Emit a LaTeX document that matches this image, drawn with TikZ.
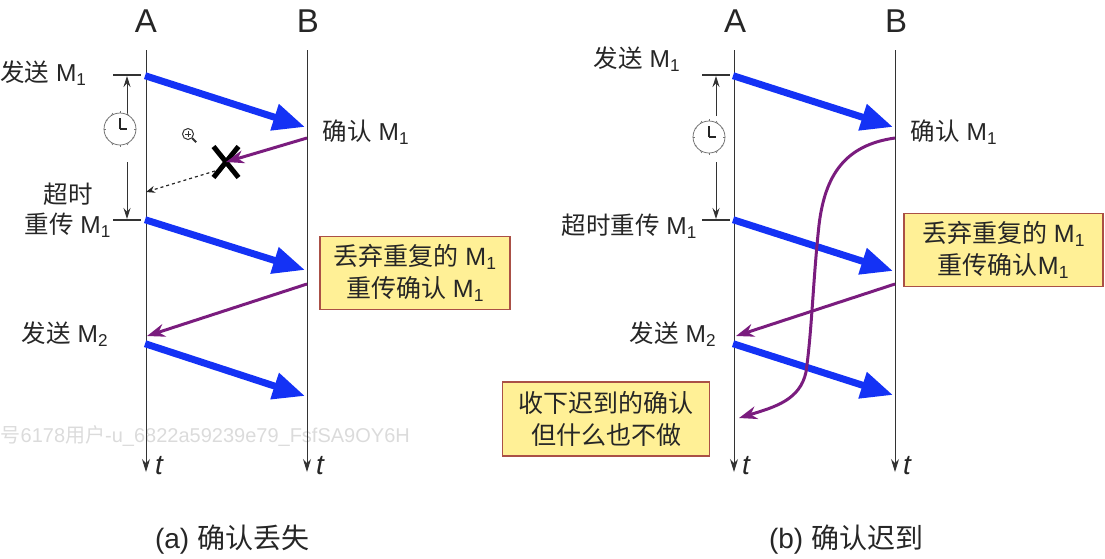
\documentclass[tikz,border=0pt]{standalone}
\usepackage{fontspec}
\usepackage{tikz}
\usetikzlibrary{arrows.meta,shapes.misc}
\setmainfont{Liberation Sans}
\newfontfamily\cjk{Noto Sans CJK SC}
\newcommand{\cn}[1]{{\cjk #1}}
\newcommand{\MM}[1]{M\textsubscript{#1}}
\definecolor{msgblue}{RGB}{20,50,245}
\definecolor{ackpurple}{RGB}{122,28,126}
\definecolor{notefill}{RGB}{255,240,150}
\definecolor{noteedge}{RGB}{170,80,70}

\begin{document}
\begin{tikzpicture}[x=1pt, y=-1pt, >=stealth,
  label/.style={inner sep=0pt, font=\fontsize{24.5}{30}\selectfont, text=black!85, align=center},
  station/.style={inner sep=0pt, font=\fontsize{33}{33}\selectfont, text=black!85},
  timeend/.style={inner sep=0pt, font=\fontsize{28}{28}\selectfont\itshape, text=black!85},
  caption/.style={inner sep=0pt, font=\fontsize{28}{32}\selectfont, text=black!85},
  notebox/.style={draw=noteedge, fill=notefill, line width=1.2pt, inner sep=0pt,
    align=center, font=\fontsize{25}{32}\selectfont, text=black!85},
  timeline/.style={-{Stealth[length=13pt,width=8pt]}, line width=1pt, black!80},
  tick/.style={line width=1.2pt, black!80},
  span/.style={-{Stealth[length=11pt,width=7pt]}, line width=1pt, black!80},
  datamsg/.style={-{Triangle[length=32pt,width=26pt]}, line width=7pt, msgblue, shorten <=-1pt},
  ackmsg/.style={-{Stealth[length=18pt,width=13pt]}, line width=3pt, ackpurple}]

  \useasboundingbox (0,0) rectangle (1105,558);

  % watermark
  \node[inner sep=0pt, anchor=west, font=\fontsize{20}{20}\selectfont, text=black!14] (mark) at (0.5,436)
    {\cn{号}6178\cn{用户}-u\_6822a59239e79\_FsfSA9OY6H};

  % stations (a)
  \node[station] (A1) at (146,21) {A};
  \node[station] (B1) at (308,21) {B};
  \coordinate (A1top) at (146,50);
  \coordinate (B1top) at (307,50);
  \coordinate (A1end) at (146,472);
  \coordinate (B1end) at (307,472);
  \node[timeend] (tA1) at (159,466) {t};
  \node[timeend] (tB1) at (320,466) {t};
  \draw[timeline] (A1top) -- (A1end);
  \draw[timeline] (B1top) -- (B1end);

  % stations (b)
  \node[station] (A2) at (735,21) {A};
  \node[station] (B2) at (896,21) {B};
  \coordinate (A2top) at (734,50);
  \coordinate (B2top) at (895,50);
  \coordinate (A2end) at (734,472);
  \coordinate (B2end) at (895,472);
  \node[timeend] (tA2) at (746,466) {t};
  \node[timeend] (tB2) at (907,466) {t};
  \draw[timeline] (A2top) -- (A2end);
  \draw[timeline] (B2top) -- (B2end);

  % labels (a)
  \node[label, anchor=west] (send1) at (0,73) {\cn{发送} \MM{1}};
  \node[label] (late1) at (68,194) {\cn{超时}};
  \node[label, anchor=east] (resend1) at (111,225) {\cn{重传} \MM{1}};
  \node[label] (ack1) at (366,132) {\cn{确认} \MM{1}};
  \node[label] (send2) at (65,334) {\cn{发送} \MM{2}};

  % labels (b)
  \node[label] (send3) at (637,59) {\cn{发送} \MM{1}};
  \node[label, anchor=east] (resend3) at (697,226) {\cn{超时重传} \MM{1}};
  \node[label] (ack3) at (954,132) {\cn{确认} \MM{1}};
  \node[label] (send4) at (673,334) {\cn{发送} \MM{2}};

  % notes
  \node[notebox, minimum width=190pt, minimum height=73pt] (dup1) at (415,273)
    {\cn{丢弃重复的} \MM{1}\\\cn{重传确认} \MM{1}};
  \node[notebox, minimum width=199pt, minimum height=73pt] (dup2) at (1003.5,250)
    {\cn{丢弃重复的} \MM{1}\\\cn{重传确认}\MM{1}};
  \node[notebox, minimum width=207pt, minimum height=74pt] (keep) at (606,419)
    {\cn{收下迟到的确认}\\\cn{但什么也不做}};

  % timers
  \foreach \n/\tx/\ax/\cx/\cy in {1/113/127/120/129, 2/702/716/709/137} {
    \coordinate (t\n a) at (\tx,75);
    \coordinate (t\n b) at (\tx+28,75);
    \coordinate (t\n c) at (\tx,220);
    \coordinate (t\n d) at (\tx+28,220);
    \coordinate (s\n a) at (\ax,116);
    \coordinate (s\n b) at (\ax,76);
    \coordinate (s\n c) at (\ax,162);
    \coordinate (s\n d) at (\ax,219);
    \draw[tick] (t\n a) -- (t\n b);
    \draw[tick] (t\n c) -- (t\n d);
    \draw[span] (s\n a) -- (s\n b);
    \draw[span] (s\n c) -- (s\n d);
    \node[circle, draw=black!60, fill=white, line width=0.7pt, minimum size=32pt, inner sep=0pt] (clock\n) at (\cx,\cy) {};
    \foreach \ang in {0,30,...,330}
      \draw[black!55, line width=0.8pt] (clock\n.\ang) -- ++(\ang:-2);
    \draw[black!85, line width=1.3pt] (clock\n.center) -- ++(0,-11);
    \draw[black!85, line width=1.3pt] (clock\n.center) -- ++(7,0);
  }

  % messages (a)
  \coordinate (p1) at (146,76);
  \coordinate (q1) at (305,127);
  \coordinate (p2) at (146,220);
  \coordinate (q2) at (305,270);
  \coordinate (p3) at (146,344);
  \coordinate (q3) at (305,396);
  \draw[datamsg] (p1) -- (q1);
  \draw[datamsg] (p2) -- (q2);
  \draw[datamsg] (p3) -- (q3);
  \coordinate (r1) at (307,138);
  \coordinate (r2) at (307,284);
  \coordinate (u1) at (146,192);
  \coordinate (u2) at (147,336);
  \node[cross out, draw=black, line width=5pt, minimum width=20pt, minimum height=26pt, inner sep=0pt] (lost) at (226,162) {};
  \draw[ackmsg] (r1) -- (lost.center);
  \draw[-{Stealth[length=9pt,width=7pt]}, dashed, line width=1.2pt, black!85] (lost.center) ++(-11,9) -- (u1);
  \draw[ackmsg] (r2) -- (u2);

  % messages (b)
  \coordinate (p4) at (734,76);
  \coordinate (q4) at (893,127);
  \coordinate (p5) at (734,220);
  \coordinate (q5) at (893,271);
  \coordinate (p6) at (734,344);
  \coordinate (q6) at (893,395);
  \draw[datamsg] (p4) -- (q4);
  \draw[datamsg] (p5) -- (q5);
  \draw[datamsg] (p6) -- (q6);
  \coordinate (r3) at (895,138);
  \coordinate (r4) at (895,284);
  \coordinate (u3) at (739,418);
  \coordinate (u4) at (736,336);
  \draw[ackmsg] (r4) -- (u4);
  \draw[ackmsg] (r3) .. controls (845,145) and (825,175) .. (819,225)
    .. controls (813,280) and (812,330) .. (806,372)
    .. controls (800,400) and (775,407) .. (u3);

  % magnifier
  \node[circle, draw=black!80, line width=1pt, minimum size=11pt, inner sep=0pt] (lens) at (188,134) {};
  \draw[black!80, line width=1pt] (lens.center) ++(-3,0) -- ++(6,0);
  \draw[black!80, line width=1pt] (lens.center) ++(0,-3) -- ++(0,6);
  \draw[black!80, line width=1.8pt] (lens.-45) -- ++(4,4);

  % captions
  \node[caption] (capa) at (232,540) {(a) \cn{确认丢失}};
  \node[caption] (capb) at (846,540) {(b) \cn{确认迟到}};

\end{tikzpicture}
\end{document}
